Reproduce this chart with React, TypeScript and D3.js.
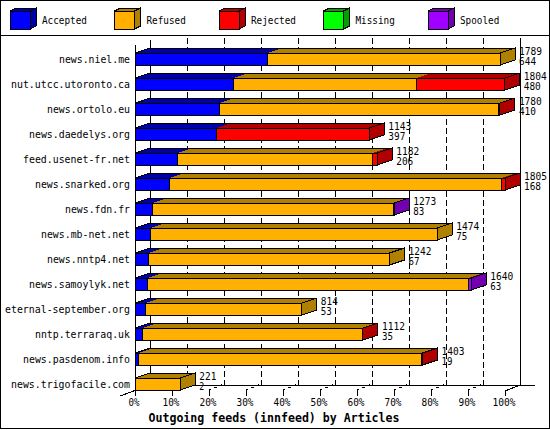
import React from 'react';
import * as d3 from 'd3';

const categories = [
  'news.niel.me', 'nut.utcc.utoronto.ca', 'news.ortolo.eu', 'news.daedelys.org',
  'feed.usenet-fr.net', 'news.snarked.org', 'news.fdn.fr', 'news.mb-net.net',
  'news.nntp4.net', 'news.samoylyk.net', 'eternal-september.org', 'nntp.terraraq.uk',
  'news.pasdenom.info', 'news.trigofacile.com',
];
const offered = [1789, 1804, 1780, 1143, 1182, 1805, 1273, 1474, 1242, 1640, 814, 1112, 1403, 221];
const accepted = [644, 480, 410, 397, 206, 168, 83, 75, 67, 63, 53, 35, 19, 2];
const refused = [1137, 894, 1364, 0, 954, 1620, 1179, 1399, 1175, 1565, 761, 1073, 1380, 219];
const rejected = [0, 430, 6, 746, 22, 17, 0, 0, 0, 0, 0, 4, 4, 0];
const missing = [0, 0, 0, 0, 0, 0, 0, 0, 0, 0, 0, 0, 0, 0];
const spooled = [0, 0, 0, 0, 0, 0, 3, 0, 0, 12, 0, 0, 0, 0];
const tickPercents = [0, 10, 20, 30, 40, 50, 60, 70, 80, 90, 100];
const seriesNames = ['Accepted', 'Refused', 'Rejected', 'Missing', 'Spooled'];
const seriesColors = ['#0000ff', '#ffb000', '#ff0000', '#00ff00', '#a000ff'];
const seriesDark = ['#0000a8', '#b08000', '#b00000', '#00a000', '#7000b0'];
const xTitle = 'Outgoing feeds (innfeed) by Articles';

const series = [accepted, refused, rejected, missing, spooled];

const W = 550;
const H = 430;
const DX = 15;
const DY = 5;
const mono = '"DejaVu Sans Mono", "Liberation Mono", monospace';

function T(props: {
  x: number; y: number; s: string; cw: number; size: number; anchor?: string; bold?: boolean;
}) {
  const n = props.s.length;
  return (
    <text
      x={props.x}
      y={props.y}
      fontFamily={mono}
      fontSize={props.size}
      fontWeight={props.bold ? 'bold' : 'normal'}
      textAnchor={props.anchor || 'start'}
      textLength={n * props.cw - 1}
      lengthAdjust="spacingAndGlyphs"
      fill="#000"
    >
      {props.s}
    </text>
  );
}

export default function App() {
  const x0 = 135;
  const x1 = 505;
  const floorY = 390;
  const x = d3.scaleLinear().domain([0, d3.max(offered) as number]).range([x0, x1]);
  const pct = d3.scaleLinear().domain([0, 100]).range([x0, x1]);
  const y = d3.scaleBand<string>().domain(categories).range([floorY - 25 * categories.length, floorY]).paddingInner(0);
  const legendX = d3.scaleLinear().domain([0, 1]).range([10, 114.5]);

  const poly = (pts: number[][]) => pts.map((p) => p.join(',')).join(' ');

  const bars = categories.map((c, i) => {
    const yb = (y(c) as number) + y.bandwidth();
    const yt = yb - 12;
    let cum = 0;
    const segs: { a: number; b: number; k: number }[] = [];
    series.forEach((s, k) => {
      const v = s[i];
      if (v > 0) {
        segs.push({ a: cum, b: cum + v, k });
        cum += v;
      }
    });
    const xs = x(0);
    const xe = x(cum);
    const last = segs[segs.length - 1];
    return (
      <g key={c}>
        {segs.map((sg) => (
          <polygon
            key={'t' + sg.k}
            points={poly([[x(sg.a), yt], [x(sg.a) + DX, yt - DY], [x(sg.b) + DX, yt - DY], [x(sg.b), yt]])}
            fill={seriesDark[sg.k]}
          />
        ))}
        <polygon
          points={poly([[xs, yt], [xs + DX, yt - DY], [xe + DX, yt - DY], [xe, yt]])}
          fill="none"
          stroke="#000"
        />
        {segs.map((sg) => (
          <rect
            key={'f' + sg.k}
            x={x(sg.a)}
            y={yt}
            width={x(sg.b) - x(sg.a)}
            height={12}
            fill={seriesColors[sg.k]}
            stroke="#000"
          />
        ))}
        <polygon
          points={poly([[xe, yt], [xe + DX, yt - DY], [xe + DX, yb - DY], [xe, yb]])}
          fill={seriesDark[last.k]}
          stroke="#000"
        />
        <T x={xe + DX + 4} y={yb - 10.5} s={String(offered[i])} cw={6} size={11} />
        <T x={xe + DX + 4} y={yb} s={String(accepted[i])} cw={6} size={11} />
        <T x={130} y={yb - 2} s={c} cw={6} size={11} anchor="end" />
      </g>
    );
  });

  return (
    <svg
      width={W}
      height={H}
      style={{ position: 'absolute', left: 0, top: 0, display: 'block' }}
      shapeRendering="crispEdges"
    >
      <rect x={0} y={0} width={W} height={H} fill="#fff" />
      <rect x={0.5} y={0.5} width={549} height={428} fill="#fff" stroke="#000" />

      {seriesNames.map((n, k) => {
        const lx = legendX(k);
        return (
          <g key={n}>
            <polygon points={poly([[lx, 11], [lx + 6, 8], [lx + 26, 8], [lx + 20, 11]])} fill={seriesDark[k]} stroke="#000" />
            <polygon points={poly([[lx + 20, 11], [lx + 26, 8], [lx + 26, 26], [lx + 20, 29]])} fill={seriesDark[k]} stroke="#000" />
            <rect x={lx} y={11} width={20} height={18} fill={seriesColors[k]} stroke="#000" />
            <T x={lx + 32} y={24} s={n} cw={5.75} size={10.5} />
          </g>
        );
      })}
      <line x1={0} x2={W} y1={35.5} y2={35.5} stroke="#000" />

      {/* back wall */}
      {tickPercents.slice(1, -1).map((p) => (
        <line key={'g' + p} x1={pct(p) + DX} x2={pct(p) + DX} y1={38} y2={floorY - 5} stroke="#000" strokeDasharray="6,3" />
      ))}
      <line x1={pct(0) + DX} x2={pct(0) + DX} y1={40} y2={floorY - 5} stroke="#000" />
      <line x1={pct(100) + DX} x2={pct(100) + DX} y1={38} y2={floorY - 5} stroke="#000" />
      <line x1={pct(0) + DX} x2={pct(100) + DX + 15} y1={floorY - 5} y2={floorY - 5} stroke="#000" />

      {/* floor ticks */}
      {tickPercents.map((p) => (
        <g key={'t' + p}>
          <line x1={pct(p)} x2={pct(p)} y1={floorY} y2={floorY + 6} stroke="#000" />
          {p > 0 && p < 100 ? (
            <line x1={pct(p)} y1={floorY} x2={pct(p) + DX} y2={floorY - 6} stroke="#000" strokeDasharray="2,4" />
          ) : null}
          <T x={pct(p) - 1} y={406} s={p + '%'} cw={6} size={11} anchor="middle" />
        </g>
      ))}
      <line x1={pct(100)} y1={floorY + 1} x2={pct(100) + DX} y2={floorY - 5} stroke="#000" />
      <line x1={120} y1={396} x2={pct(0) + DX} y2={floorY - 5} stroke="#000" />
      <line x1={x0} x2={x0} y1={45} y2={floorY + 6} stroke="#000" />

      {bars}

      <T x={274} y={421.5} s={xTitle} cw={7} size={12.5} anchor="middle" bold />
    </svg>
  );
}
